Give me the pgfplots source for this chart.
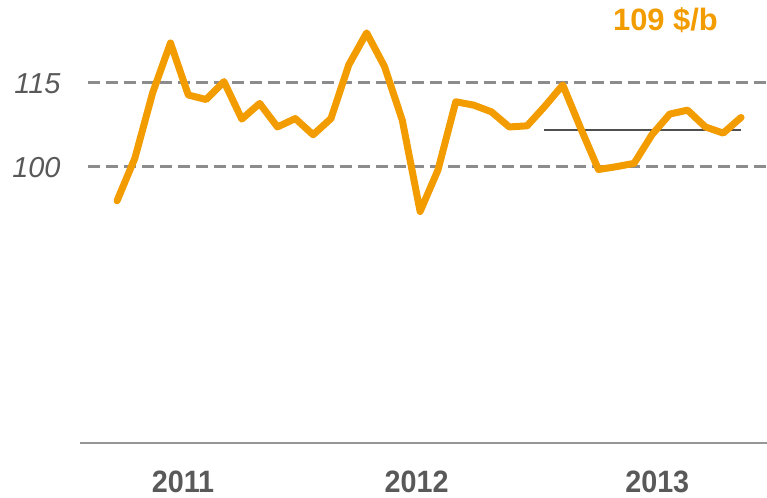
\documentclass[border=0pt]{standalone}
\usepackage{pgfplots}
\pgfplotsset{compat=1.18}
\usepackage{fontspec}
\setmainfont{Liberation Sans}
\definecolor{orangeline}{RGB}{243,156,0}
\definecolor{dashgray}{RGB}{140,140,140}
\definecolor{txtgray}{RGB}{89,89,89}
\definecolor{axgray}{RGB}{150,150,150}
\definecolor{avggray}{RGB}{80,80,80}
\begin{document}
\begin{tikzpicture}
\path[use as bounding box] (0,0) rectangle (767bp,498bp);
\begin{axis}[
  at={(80bp,55bp)}, anchor=south west,
  scale only axis, width=687bp, height=443bp,
  xmin=-2.075, xmax=36.455, ymin=50.66, ymax=129.77,
  axis x line*=bottom, axis y line*=left,
  x axis line style={draw=axgray, line width=2bp, -},
  y axis line style={draw=none},
  major tick length=0pt,
  xtick={3.7,16.8,30.3}, xticklabels={2011,2012,2013},
  ytick={100,115},
  /pgf/number format/assume math mode=true,
  xticklabel style={font=\fontsize{31}{33}\selectfont\bfseries, text=txtgray, yshift=-24bp, xscale=0.93},
  yticklabel style={font=\fontsize{29}{31}\selectfont\itshape, text=txtgray, xshift=-16bp, yshift=-1bp},
  clip=false,
]
\addplot[dashgray, line width=2.5bp, dash pattern=on 12bp off 6bp] coordinates {(-1.63,100) (36.455,100)};
\addplot[dashgray, line width=2.5bp, dash pattern=on 12bp off 6bp] coordinates {(-1.63,115) (36.455,115)};
\addplot[avggray, line width=2bp] coordinates {(23.95,106.55) (35,106.55)};
\addplot[orangeline, line width=7bp, line join=round, line cap=round] coordinates {
(0,93.9) (1,101.5) (2,113.2) (3,122.1) (4,112.8) (5,112.0) (6,115.2) (7,108.5)
(8,111.3) (9,107.1) (10,108.6) (11,105.7) (12,108.6) (13,118.2) (14,123.9) (15,117.9)
(16,108.3) (17,92.0) (18,99.4) (19,111.6) (20,111.0) (21,109.8) (22,107.1) (23,107.3)
(24,110.8) (25,114.6) (26,106.9) (27,99.5) (28,100.0) (29,100.6) (30,105.7) (31,109.4)
(32,110.1) (33,107.1) (34,106.0) (35,108.8)};
\end{axis}
\node[text=orangeline, font=\fontsize{31}{33}\selectfont\bfseries, anchor=center] at (665.5bp,478bp) {109 \$/b};
\end{tikzpicture}
\end{document}
